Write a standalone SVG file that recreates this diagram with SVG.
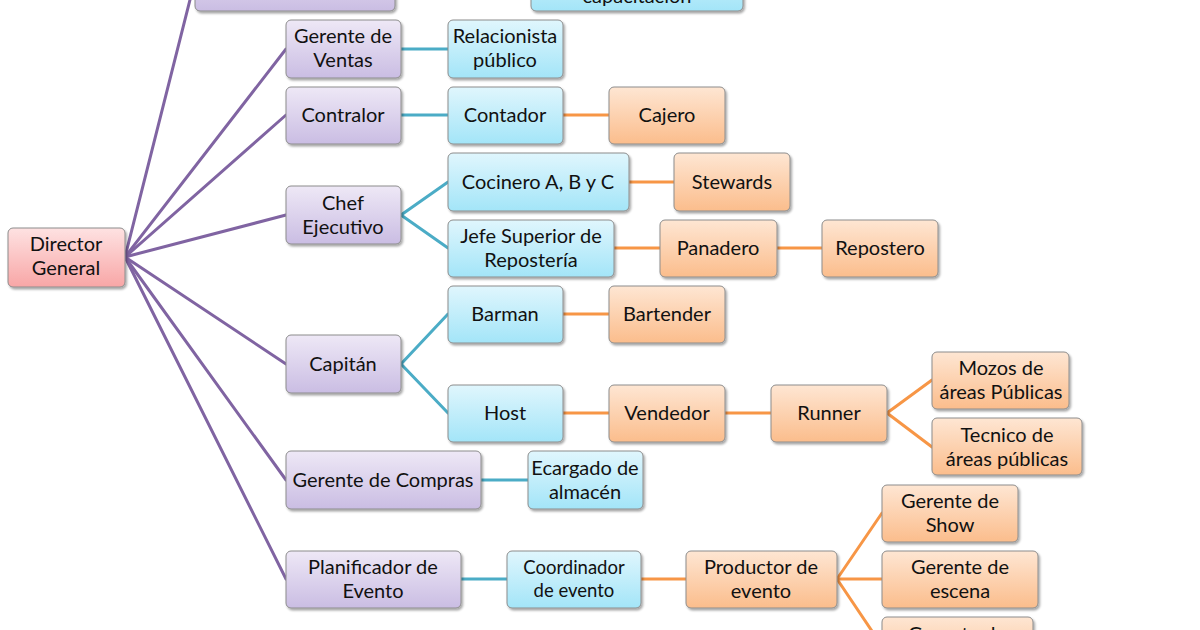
<svg xmlns="http://www.w3.org/2000/svg" width="1200" height="630" viewBox="0 0 1200 630">
<defs>
<linearGradient id="gP" x1="0" y1="0" x2="0" y2="1"><stop offset="0" stop-color="#EEE8F6"/><stop offset="1" stop-color="#CABDE3"/></linearGradient>
<linearGradient id="gC" x1="0" y1="0" x2="0" y2="1"><stop offset="0" stop-color="#E0F6FD"/><stop offset="1" stop-color="#A3E5F8"/></linearGradient>
<linearGradient id="gO" x1="0" y1="0" x2="0" y2="1"><stop offset="0" stop-color="#FEE6D3"/><stop offset="1" stop-color="#FBBD8C"/></linearGradient>
<linearGradient id="gR" x1="0" y1="0" x2="0" y2="1"><stop offset="0" stop-color="#FEE2E2"/><stop offset="1" stop-color="#F8A6A6"/></linearGradient>
<filter id="sh" x="-10%" y="-10%" width="130%" height="140%"><feDropShadow dx="1.5" dy="2" stdDeviation="1.2" flood-color="#000" flood-opacity="0.35"/></filter>
</defs>
<style>
rect{stroke:#8C8C8C;stroke-width:1;filter:url(#sh)}
.p{fill:url(#gP)}.c{fill:url(#gC)}.o{fill:url(#gO)}.r{fill:url(#gR)}
text{font-family:Lato,"Open Sans","Liberation Sans",sans-serif;font-size:20px;fill:#111;text-anchor:middle}
.sm{font-size:18.5px}
#connectors line{stroke-width:3;stroke-linecap:round;fill:none}
.lp{stroke:#8064A2}.lc{stroke:#4BACC6}.lo{stroke:#F79646}
</style>
<rect width="1200" height="630" fill="#fff" style="stroke:none;filter:none"/>
<g id="connectors">
<line class="lp" x1="125" y1="257" x2="195" y2="-20"/>
<line class="lp" x1="125" y1="257" x2="286" y2="49"/>
<line class="lp" x1="125" y1="257" x2="286" y2="115"/>
<line class="lp" x1="125" y1="257" x2="286" y2="215"/>
<line class="lp" x1="125" y1="257" x2="286" y2="364"/>
<line class="lp" x1="125" y1="257" x2="286" y2="480"/>
<line class="lp" x1="125" y1="257" x2="286" y2="579"/>
<line class="lc" x1="401" y1="49" x2="448" y2="49"/>
<line class="lc" x1="401" y1="115" x2="448" y2="115"/>
<line class="lc" x1="401" y1="215" x2="448" y2="182"/>
<line class="lc" x1="401" y1="215" x2="448" y2="248"/>
<line class="lc" x1="401" y1="364" x2="448" y2="314"/>
<line class="lc" x1="401" y1="364" x2="448" y2="413"/>
<line class="lc" x1="481" y1="480" x2="528" y2="480"/>
<line class="lc" x1="461" y1="579" x2="507" y2="579"/>
<line class="lo" x1="563" y1="115" x2="609" y2="115"/>
<line class="lo" x1="629" y1="182" x2="674" y2="182"/>
<line class="lo" x1="614" y1="248" x2="660" y2="248"/>
<line class="lo" x1="777" y1="248" x2="822" y2="248"/>
<line class="lo" x1="563" y1="314" x2="609" y2="314"/>
<line class="lo" x1="563" y1="413" x2="609" y2="413"/>
<line class="lo" x1="725" y1="413" x2="771" y2="413"/>
<line class="lo" x1="887" y1="413" x2="932" y2="380"/>
<line class="lo" x1="887" y1="413" x2="932" y2="447"/>
<line class="lo" x1="641" y1="579" x2="686" y2="579"/>
<line class="lo" x1="837" y1="579" x2="882" y2="513"/>
<line class="lo" x1="837" y1="579" x2="882" y2="579"/>
<line class="lo" x1="837" y1="579" x2="882" y2="646"/>
</g>
<g id="n-director"><rect class="r" x="8" y="228" width="117" height="59" rx="5"/><text x="66" y="251">Director</text><text x="66" y="275">General</text></g>
<g id="n-top-purple"><rect class="p" x="195" y="-47" width="200" height="58" rx="5"/></g>
<g id="n-top-cyan"><rect class="c" x="531" y="-47" width="212" height="58" rx="5"/><text x="637" y="3">capacitación</text></g>
<g id="n-ventas"><rect class="p" x="286" y="20" width="115" height="58" rx="5"/><text x="343" y="43">Gerente de</text><text x="343" y="67">Ventas</text></g>
<g id="n-contralor"><rect class="p" x="286" y="87" width="115" height="57" rx="5"/><text x="343" y="122">Contralor</text></g>
<g id="n-chef"><rect class="p" x="286" y="186" width="115" height="58" rx="5"/><text x="343" y="210">Chef</text><text x="343" y="234">Ejecutivo</text></g>
<g id="n-capitan"><rect class="p" x="286" y="335" width="115" height="58" rx="5"/><text x="343" y="371">Capitán</text></g>
<g id="n-compras"><rect class="p" x="286" y="451" width="195" height="58" rx="5"/><text x="383" y="487">Gerente de Compras</text></g>
<g id="n-planificador"><rect class="p" x="286" y="551" width="175" height="57" rx="5"/><text x="373" y="574">Planificador de</text><text x="373" y="598">Evento</text></g>
<g id="n-relacionista"><rect class="c" x="448" y="20" width="115" height="58" rx="5"/><text x="505" y="43">Relacionista</text><text x="505" y="67">público</text></g>
<g id="n-contador"><rect class="c" x="448" y="87" width="115" height="57" rx="5"/><text x="505" y="122">Contador</text></g>
<g id="n-cocinero"><rect class="c" x="448" y="153" width="181" height="58" rx="5"/><text x="538" y="189">Cocinero A, B y C</text></g>
<g id="n-jefe"><rect class="c" x="448" y="220" width="166" height="57" rx="5"/><text x="531" y="243">Jefe Superior de</text><text x="531" y="267">Repostería</text></g>
<g id="n-barman"><rect class="c" x="448" y="286" width="115" height="57" rx="5"/><text x="505" y="321">Barman</text></g>
<g id="n-host"><rect class="c" x="448" y="385" width="115" height="57" rx="5"/><text x="505" y="420">Host</text></g>
<g id="n-ecargado"><rect class="c" x="528" y="451" width="115" height="58" rx="5"/><text x="585" y="475">Ecargado de</text><text x="585" y="499">almacén</text></g>
<g id="n-coordinador"><rect class="c" x="507" y="551" width="134" height="57" rx="5"/><text class="sm" x="574" y="574">Coordinador</text><text class="sm" x="574" y="597">de evento</text></g>
<g id="n-cajero"><rect class="o" x="609" y="87" width="116" height="57" rx="5"/><text x="667" y="122">Cajero</text></g>
<g id="n-stewards"><rect class="o" x="674" y="153" width="116" height="58" rx="5"/><text x="732" y="189">Stewards</text></g>
<g id="n-panadero"><rect class="o" x="660" y="220" width="117" height="57" rx="5"/><text x="718" y="255">Panadero</text></g>
<g id="n-repostero"><rect class="o" x="822" y="220" width="116" height="57" rx="5"/><text x="880" y="255">Repostero</text></g>
<g id="n-bartender"><rect class="o" x="609" y="286" width="116" height="57" rx="5"/><text x="667" y="321">Bartender</text></g>
<g id="n-vendedor"><rect class="o" x="609" y="385" width="116" height="57" rx="5"/><text x="667" y="420">Vendedor</text></g>
<g id="n-runner"><rect class="o" x="771" y="385" width="116" height="57" rx="5"/><text x="829" y="420">Runner</text></g>
<g id="n-mozos"><rect class="o" x="932" y="352" width="137" height="57" rx="5"/><text x="1001" y="375">Mozos de</text><text x="1001" y="399">áreas Públicas</text></g>
<g id="n-tecnico"><rect class="o" x="932" y="418" width="150" height="57" rx="5"/><text x="1007" y="442">Tecnico de</text><text x="1007" y="466">áreas públicas</text></g>
<g id="n-show"><rect class="o" x="882" y="485" width="136" height="57" rx="5"/><text x="950" y="508">Gerente de</text><text x="950" y="532">Show</text></g>
<g id="n-productor"><rect class="o" x="686" y="551" width="151" height="57" rx="5"/><text x="761" y="574">Productor de</text><text x="761" y="598">evento</text></g>
<g id="n-escena"><rect class="o" x="882" y="551" width="156" height="57" rx="5"/><text x="960" y="574">Gerente de</text><text x="960" y="598">escena</text></g>
<g id="n-bottom"><rect class="o" x="882" y="617" width="151" height="57" rx="5"/><text x="957" y="641">Gerente de</text></g>
</svg>
